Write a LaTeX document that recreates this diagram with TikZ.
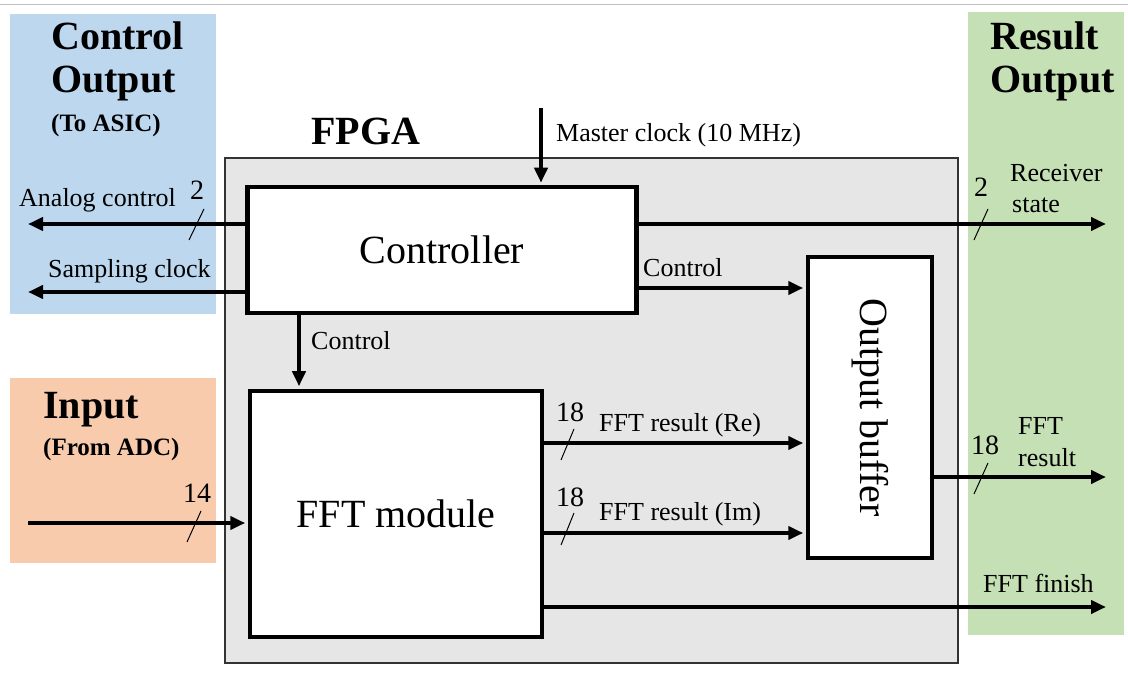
\documentclass[tikz,border=0pt]{standalone}
\usepackage{fontspec}
\usepackage{graphicx}
\setmainfont{Liberation Serif}
\usetikzlibrary{arrows.meta}
\definecolor{ctlblue}{HTML}{BDD7EE}
\definecolor{inorange}{HTML}{F8CBAD}
\definecolor{resgreen}{HTML}{C5E0B4}
\definecolor{fpgagray}{HTML}{E6E6E6}
\begin{document}
\begin{tikzpicture}[x=1pt,y=-1pt,
 sig/.style={line width=4.5pt,-{Triangle[length=15pt,width=13pt]}},
 blk/.style={draw,line width=4.5pt,fill=white,inner sep=0pt,font=\fontsize{40}{44}\selectfont},
 lbl/.style={anchor=base west,inner sep=0pt,font=\fontsize{26}{30}\selectfont},
 num/.style={anchor=base west,inner sep=0pt,font=\fontsize{28}{32}\selectfont},
 ttl/.style={anchor=base west,inner sep=0pt,font=\fontsize{40}{44}\selectfont\bfseries},
 sub/.style={anchor=base west,inner sep=0pt,font=\fontsize{25}{30}\selectfont\bfseries},
 bus/.style={line width=1pt},
]
\useasboundingbox (0,0) rectangle (1128,684);
\fill[white] (0,0) rectangle (1128,684);
\draw[black!25, line width=1pt] (0,5) -- (1128,5);
% side panels
\fill[ctlblue] (10,14) rectangle (216,314);
\fill[inorange] (10,378) rectangle (216,563);
\fill[resgreen] (968,12) rectangle (1124,635);
% FPGA
\node[draw=black!80, line width=1.5pt, fill=fpgagray, minimum width=733pt, minimum height=505pt, inner sep=0pt] (fpga) at (591.5,410.5) {};
% blocks
\node[blk, minimum width=389pt, minimum height=126pt] (ctrl) at (442,250) {Controller};
\node[blk, minimum width=292pt, minimum height=246pt] (fft) at (396,514) {FFT module};
\node[blk, minimum width=124pt, minimum height=301pt] (obuf) at (870,407.5) {\rotatebox{-90}{Output buffer}};
% helper coordinates
\coordinate (mc) at (541,108);
\coordinate (ac) at (28,224);
\coordinate (sc) at (28,292);
\coordinate (rs) at (1106,224);
\coordinate (c1) at (0,288);
\coordinate (cd) at (299,0);
\coordinate (in) at (28,523);
\coordinate (yre) at (0,443);
\coordinate (yim) at (0,533);
\coordinate (fr) at (1106,477);
\coordinate (fin) at (1106,607);
% connectors
\draw[sig, shorten >=2pt] (mc) -- (mc |- ctrl.north);
\draw[sig] (ctrl.west |- ac) -- (ac);
\draw[sig] (ctrl.west |- sc) -- (sc);
\draw[sig] (ctrl.east |- rs) -- (rs);
\draw[sig, shorten >=2.5pt] (ctrl.east |- c1) -- (obuf.west |- c1);
\draw[sig, shorten >=2.5pt] (cd |- ctrl.south) -- (cd |- fft.north);
\draw[sig, shorten >=2.5pt] (in) -- (in -| fft.west);
\draw[sig, shorten >=2.5pt] (fft.east |- yre) -- (obuf.west |- yre);
\draw[sig, shorten >=2.5pt] (fft.east |- yim) -- (obuf.west |- yim);
\draw[sig] (obuf.east |- fr) -- (fr);
\draw[sig] (fft.east |- fin) -- (fin);
% bus slashes
\draw[bus] (189,240) -- (204,209);
\draw[bus] (974,240) -- (988,209);
\draw[bus] (187,542) -- (201,511);
\draw[bus] (561,460) -- (574,429);
\draw[bus] (561,545) -- (574,513);
\draw[bus] (974,494) -- (988,463);
% labels
\node[lbl] (lmc) at (556,142) {Master clock (10 MHz)};
\node[lbl] (lac) at (19,207) {Analog control};
\node[num] (lac2) at (190,200) {2};
\node[lbl] (lsc) at (48,278) {Sampling clock};
\node[lbl] (lc1) at (643,277) {Control};
\node[lbl] (lc2) at (311,350) {Control};
\node[num] (lin) at (183,503) {14};
\node[num] (lre1) at (556,422) {18};
\node[lbl] (lre) at (599,432) {FFT result (Re)};
\node[num] (lim1) at (556,507) {18};
\node[lbl] (lim) at (599,521) {FFT result (Im)};
\node[num] (lrs2) at (974,197) {2};
\node[lbl] (lrsa) at (1010,182) {Receiver};
\node[lbl] (lrsb) at (1012,213) {state};
\node[num] (lfr1) at (971,455) {18};
\node[lbl] (lfra) at (1018,435) {FFT};
\node[lbl] (lfrb) at (1018,467) {result};
\node[lbl] (lfin) at (983,592) {FFT finish};
% titles
\node[ttl] (t1) at (51,50) {Control};
\node[ttl] (t2) at (51,93) {Output};
\node[sub] (t3) at (51,132) {(To ASIC)};
\node[ttl] (t4) at (311,145) {FPGA};
\node[ttl] (t5) at (43,419) {Input};
\node[sub] (t6) at (43,456) {(From ADC)};
\node[ttl] (t7) at (990,50) {Result};
\node[ttl] (t8) at (990,93) {Output};
\end{tikzpicture}
\end{document}
